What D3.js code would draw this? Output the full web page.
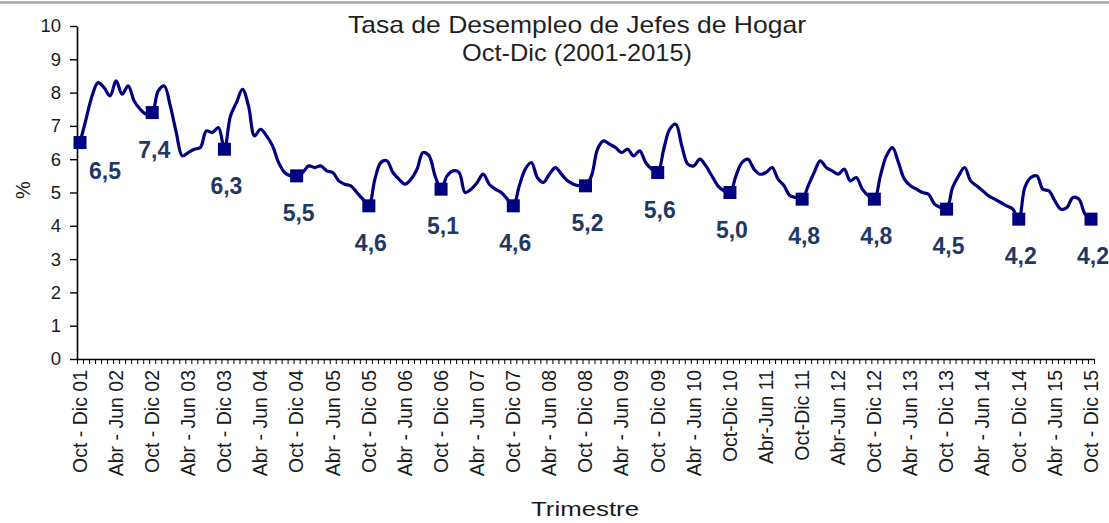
<!DOCTYPE html>
<html>
<head>
<meta charset="utf-8">
<script src="https://cdn.jsdelivr.net/npm/d3@7"></script>
<style>
  html, body { margin: 0; padding: 0; background: #fff; }
  svg { display: block; font-family: "Liberation Sans", Arial, sans-serif; }
</style>
</head>
<body>
<svg id="chart"></svg>
<script>
// tasa de desempleo, trimestres móviles Oct-Dic 01 .. Oct-Dic 15
const tasa = [
  6.5, 7.2, 7.9, 8.3, 8.15, 7.9, 8.35, 7.95, 8.2, 7.75, 7.5, 7.35, 7.4,
  8.05, 8.2, 7.6, 6.8, 6.1, 6.2, 6.3, 6.35, 6.85, 6.8, 6.95, 6.3,
  7.3, 7.7, 8.1, 7.6, 6.7, 6.9, 6.7, 6.4, 5.9, 5.6, 5.5, 5.5,
  5.6, 5.8, 5.75, 5.8, 5.65, 5.6, 5.35, 5.25, 5.2, 5.0, 4.8, 4.6,
  5.4, 5.9, 5.95, 5.6, 5.4, 5.25, 5.4, 5.7, 6.2, 6.1, 5.5, 5.1,
  5.5, 5.65, 5.6, 5.0, 5.1, 5.3, 5.55, 5.25, 5.1, 5.0, 4.8, 4.6,
  5.2, 5.7, 5.9, 5.45, 5.3, 5.55, 5.75, 5.55, 5.35, 5.25, 5.2, 5.2,
  5.5, 6.3, 6.55, 6.45, 6.35, 6.2, 6.3, 6.1, 6.25, 5.9, 5.7, 5.6,
  6.3, 6.9, 7.05, 6.4, 5.85, 5.8, 6.0, 5.8, 5.5, 5.2, 5.05, 5.0,
  5.5, 5.9, 6.0, 5.7, 5.55, 5.6, 5.75, 5.4, 5.2, 4.9, 4.85, 4.8,
  5.2, 5.6, 5.95, 5.75, 5.65, 5.55, 5.7, 5.35, 5.45, 5.1, 4.9, 4.8,
  5.5, 6.1, 6.35, 5.9, 5.4, 5.2, 5.1, 5.0, 4.95, 4.65, 4.55, 4.5,
  5.15, 5.5, 5.75, 5.35, 5.2, 5.05, 4.9, 4.8, 4.7, 4.6, 4.5, 4.2,
  5.15, 5.45, 5.5, 5.1, 5.05, 4.75, 4.5, 4.55, 4.85, 4.8, 4.35, 4.2
];

const tickLabels = [
  "Oct - Dic 01", "Abr - Jun 02", "Oct - Dic 02", "Abr - Jun 03", "Oct - Dic 03",
  "Abr - Jun 04", "Oct - Dic 04", "Abr - Jun 05", "Oct - Dic 05", "Abr - Jun 06",
  "Oct - Dic 06", "Abr - Jun 07", "Oct - Dic 07", "Abr - Jun 08", "Oct - Dic 08",
  "Abr - Jun 09", "Oct - Dic 09", "Abr - Jun 10", "Oct-Dic 10", "Abr-Jun 11",
  "Oct-Dic 11", "Abr-Jun 12", "Oct - Dic 12", "Abr - Jun 13", "Oct - Dic 13",
  "Abr - Jun 14", "Oct - Dic 14", "Abr - Jun 15", "Oct - Dic 15"
];

const yTicks = [0, 1, 2, 3, 4, 5, 6, 7, 8, 9, 10];

const width = 1109, height = 523;
const svg = d3.select("#chart").attr("width", width).attr("height", height);

svg.append("rect").attr("width", width).attr("height", height).attr("fill", "#fff");
// chart area border (only the top shows in the crop)
svg.append("line")
  .attr("x1", 0).attr("x2", width).attr("y1", 2.5).attr("y2", 2.5)
  .attr("stroke", "#a6a6a6").attr("stroke-width", 2.5);

const plotLeft = 77, plotRight = 1094, plotTop = 26, plotBottom = 359;

const idx = d3.range(tasa.length);
const x = d3.scalePoint().domain(idx).range([plotLeft, plotRight]).padding(0.5);
const xEdge = d3.scaleLinear().domain([0, tasa.length]).range([plotLeft, plotRight]);
const y = d3.scaleLinear().domain([0, 10]).range([plotBottom, plotTop]);

const comma = d3.formatLocale({ decimal: ",", thousands: ".", grouping: [3], currency: ["$", ""] }).format(".1f");

// title
const title = svg.append("g").attr("fill", "#1f1f1f").attr("text-anchor", "middle");
title.append("text").attr("x", 577).attr("y", 33)
  .attr("font-size", 24).attr("textLength", 458).attr("lengthAdjust", "spacingAndGlyphs")
  .text("Tasa de Desempleo de Jefes de Hogar");
title.append("text").attr("x", 577).attr("y", 61)
  .attr("font-size", 24).attr("textLength", 230).attr("lengthAdjust", "spacingAndGlyphs")
  .text("Oct-Dic (2001-2015)");

// y axis
const yAxis = svg.append("g")
  .attr("transform", `translate(${plotLeft},0)`)
  .call(d3.axisLeft(y).tickValues(yTicks).tickSize(7).tickPadding(9).tickSizeOuter(0));
yAxis.select(".domain").attr("stroke", "#000").attr("stroke-width", 1.6);
yAxis.selectAll(".tick line").attr("stroke", "#000").attr("stroke-width", 1.4);
yAxis.selectAll(".tick text").attr("font-size", 18.5).attr("fill", "#1a1a1a")
  .attr("font-family", "Liberation Sans, Arial, sans-serif");

// x axis: tick marks between categories
const xAxis = svg.append("g")
  .attr("transform", `translate(0,${plotBottom})`)
  .call(d3.axisBottom(xEdge).tickValues(d3.range(tasa.length + 1)).tickSize(5).tickFormat("").tickSizeOuter(0));
xAxis.select(".domain").attr("stroke", "#000").attr("stroke-width", 1.6);
xAxis.selectAll(".tick line").attr("stroke", "#000").attr("stroke-width", 1);

svg.append("g")
  .attr("font-size", 19.5).attr("fill", "#1a1a1a")
  .selectAll("text")
  .data(tickLabels)
  .join("text")
  .attr("transform", (d, i) => `translate(${x(i * 6)},370) rotate(-90)`)
  .attr("text-anchor", "end")
  .attr("dy", "0.35em")
  .text(d => d);

// axis titles
svg.append("text")
  .attr("x", 585).attr("y", 516)
  .attr("text-anchor", "middle").attr("font-size", 21).attr("fill", "#1a1a1a")
  .attr("textLength", 108).attr("lengthAdjust", "spacingAndGlyphs")
  .text("Trimestre");
svg.append("text")
  .attr("transform", "translate(23,190) rotate(-90)")
  .attr("text-anchor", "middle").attr("dy", "0.35em")
  .attr("font-size", 20).attr("fill", "#1a1a1a")
  .text("%");

// line
const line = d3.line()
  .x((d, i) => x(i))
  .y(d => y(d))
  .curve(d3.curveCatmullRom.alpha(0.5));

svg.append("path")
  .datum(tasa)
  .attr("d", line)
  .attr("fill", "none")
  .attr("stroke", "#000080")
  .attr("stroke-width", 3.2)
  .attr("stroke-linejoin", "round");

// Oct-Dic markers + labels
const octDic = idx.filter(i => i % 12 === 0);
const ms = 13;
svg.append("g").selectAll("rect")
  .data(octDic)
  .join("rect")
  .attr("x", i => x(i) - ms / 2)
  .attr("y", i => y(tasa[i]) - ms / 2)
  .attr("width", ms).attr("height", ms)
  .attr("fill", "#000080");

svg.append("g")
  .attr("font-size", 23).attr("font-weight", "bold").attr("fill", "#1f3864")
  .attr("text-anchor", "middle")
  .selectAll("text")
  .data(octDic)
  .join("text")
  .attr("x", i => x(i) + (i === 0 ? 25 : 2))
  .attr("y", i => y(tasa[i]) + (i === 0 ? 36 : 45))
  .text(i => comma(tasa[i]));
</script>
</body>
</html>
